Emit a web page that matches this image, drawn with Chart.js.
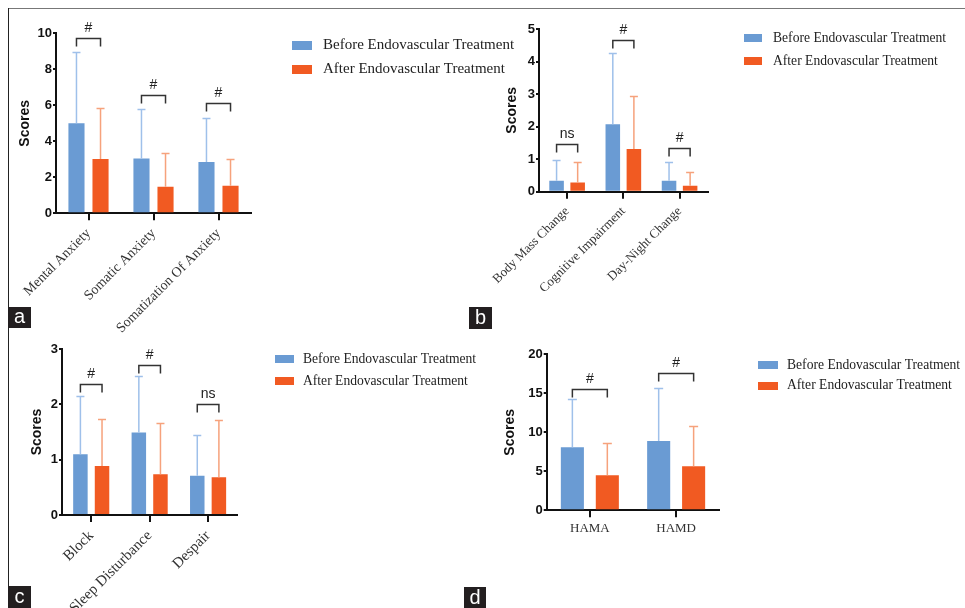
<!DOCTYPE html>
<html><head><meta charset="utf-8">
<script src="https://cdn.jsdelivr.net/npm/chart.js@4.4.1/dist/chart.umd.min.js"></script>
<style>
html,body{margin:0;padding:0;background:#fff;}
#wrap{position:relative;width:965px;height:608px;overflow:hidden;background:#fff;}
canvas{position:absolute;left:0;top:0;}
.lbl{position:absolute;background:#231f20;color:#fff;font:20px 'Liberation Sans',Arial,sans-serif;text-align:center;}
</style></head><body>
<div id="wrap">
 <div style="position:absolute;left:8px;top:8px;width:957px;height:1px;background:#777"></div>
 <div style="position:absolute;left:8px;top:8px;width:1px;height:600px;background:#222"></div>
 <canvas id="ca" width="965" height="608"></canvas>
 <canvas id="cb" width="965" height="608"></canvas>
 <canvas id="cc" width="965" height="608"></canvas>
 <canvas id="cd" width="965" height="608"></canvas>
 <div class="lbl" style="left:8px;top:307px;width:23px;height:21px;line-height:19px">a</div>
 <div class="lbl" style="left:469px;top:307px;width:23px;height:22px;line-height:20px">b</div>
 <div class="lbl" style="left:8px;top:586px;width:23px;height:22px;line-height:21px">c</div>
 <div class="lbl" style="left:464px;top:587px;width:22px;height:21px;line-height:20px">d</div>
</div>
<script>
// ---- data ----
const seriesNames = ['Before Endovascular Treatment', 'After Endovascular Treatment'];

const catA = ['Mental Anxiety', 'Somatic Anxiety', 'Somatization Of Anxiety'];
const beforeA = [5.0, 3.05, 2.85];
const beforeSdA = [3.95, 2.73, 2.45];
const afterA = [3.02, 1.48, 1.53];
const afterSdA = [2.81, 1.85, 1.49];
const sigA = ['#', '#', '#'];
const sigLevelA = [9.76, 6.57, 6.11];
const yTicksA = [0, 2, 4, 6, 8, 10];

const catB = ['Body Mass Change', 'Cognitive Impairment', 'Day-Night Change'];
const beforeB = [0.34, 2.07, 0.34];
const beforeSdB = [0.635, 2.2, 0.58];
const afterB = [0.28, 1.31, 0.18];
const afterSdB = [0.62, 1.63, 0.44];
const sigB = ['ns', '#', '#'];
const sigLevelB = [1.46, 4.65, 1.35];
const yTicksB = [0, 1, 2, 3, 4, 5];

const catC = ['Block', 'Sleep Disturbance', 'Despair'];
const beforeC = [1.10, 1.49, 0.71];
const beforeSdC = [1.05, 1.02, 0.74];
const afterC = [0.885, 0.735, 0.68];
const afterSdC = [0.855, 0.925, 1.04];
const sigC = ['#', '#', 'ns'];
const sigLevelC = [2.36, 2.71, 2.0];
const yTicksC = [0, 1, 2, 3];

const catD = ['HAMA', 'HAMD'];
const beforeD = [8.08, 8.88];
const beforeSdD = [6.22, 6.82];
const afterD = [4.49, 5.64];
const afterSdD = [4.18, 5.21];
const sigD = ['#', '#'];
const sigLevelD = [15.6, 17.6];
const yTicksD = [0, 5, 10, 15, 20];

// ---- styles ----
const BLUE = '#6a9bd3', ORANGE = '#f15a22';
const BLUE_ERR = '#9fc0ea', ORANGE_ERR = '#f6a27c';
const SANS = '"Liberation Sans", Arial, sans-serif';
const SERIF = '"Liberation Serif", "Times New Roman", serif';

const extras = {
  id: 'extras',
  afterDatasetsDraw(chart, args, opts) {
    const ctx = chart.ctx, y = chart.scales.y;
    // error bars (upper only)
    opts.sd.forEach((sdArr, di) => {
      const meta = chart.getDatasetMeta(di);
      const vals = chart.data.datasets[di].data;
      ctx.save();
      ctx.strokeStyle = opts.errColors[di];
      ctx.lineWidth = 1.5;
      meta.data.forEach((bar, j) => {
        const yt = Math.round(y.getPixelForValue(vals[j] + sdArr[j])) + 0.5;
        ctx.beginPath();
        ctx.moveTo(bar.x, bar.y);
        ctx.lineTo(bar.x, yt);
        ctx.moveTo(bar.x - opts.cap, yt);
        ctx.lineTo(bar.x + opts.cap, yt);
        ctx.stroke();
      });
      ctx.restore();
    });
    // significance brackets
    const m0 = chart.getDatasetMeta(0), m1 = chart.getDatasetMeta(1);
    ctx.save();
    ctx.strokeStyle = '#333'; ctx.lineWidth = 1.5; ctx.fillStyle = '#222';
    ctx.font = '14px ' + SANS; ctx.textAlign = 'center'; ctx.textBaseline = 'alphabetic';
    opts.sigLevels.forEach((lv, j) => {
      const x1 = m0.data[j].x, x2 = m1.data[j].x;
      const yy = Math.round(y.getPixelForValue(lv)) + 0.5;
      ctx.beginPath();
      ctx.moveTo(x1, yy + 8); ctx.lineTo(x1, yy); ctx.lineTo(x2, yy); ctx.lineTo(x2, yy + 8);
      ctx.stroke();
      ctx.fillText(opts.sig[j], (x1 + x2) / 2, yy - 7);
    });
    ctx.restore();
    // legend
    const L = opts.legend;
    ctx.save();
    ctx.font = L.size + 'px ' + SERIF; ctx.textBaseline = 'middle'; ctx.textAlign = 'left';
    chart.data.datasets.forEach((ds, i) => {
      const cy = L.y + i * L.gap;
      ctx.fillStyle = ds.backgroundColor;
      ctx.fillRect(L.x, Math.round(cy - L.bh / 2), L.bw, L.bh);
      ctx.fillStyle = '#222';
      ctx.fillText(ds.label, L.x + L.bw + L.tx, cy);
    });
    ctx.restore();
  }
};

function makePanel(id, p) {
  const t = p.yTicks;
  return new Chart(document.getElementById(id), {
    type: 'bar',
    data: {
      labels: p.cats,
      datasets: [
        { label: seriesNames[0], data: p.before, backgroundColor: BLUE, borderWidth: 0,
          categoryPercentage: p.cp, barPercentage: p.bp },
        { label: seriesNames[1], data: p.after, backgroundColor: ORANGE, borderWidth: 0,
          categoryPercentage: p.cp, barPercentage: p.bp }
      ]
    },
    options: {
      responsive: false, animation: false, devicePixelRatio: 1,
      layout: { padding: p.pad },
      plugins: {
        legend: { display: false }, tooltip: { enabled: false },
        extras: { sd: [p.beforeSd, p.afterSd], errColors: [BLUE_ERR, ORANGE_ERR], cap: p.cap,
                  sig: p.sig, sigLevels: p.sigLevels, legend: p.legend }
      },
      scales: {
        x: {
          afterFit(s) { s.height = p.xH; },
          border: { display: true, color: '#111', width: 2 },
          grid: { offset: false, drawOnChartArea: false, drawTicks: true, tickLength: 7, color: '#111', lineWidth: 2 },
          ticks: { autoSkip: false, minRotation: p.rot, maxRotation: p.rot, padding: p.xPad,
                   color: '#333', font: { family: SERIF, size: p.xFont } }
        },
        y: {
          min: t[0], max: t[t.length - 1],
          afterFit(s) { s.width = p.yW; },
          border: { display: true, color: '#111', width: 2 },
          grid: { drawOnChartArea: false, drawTicks: true, tickLength: 3, color: '#111', lineWidth: 2 },
          ticks: { stepSize: t[1] - t[0], padding: 1, color: '#111',
                   font: { family: SANS, size: 13, weight: 'bold' } },
          title: { display: true, text: 'Scores', color: '#111',
                   font: { family: SANS, size: 14, weight: 'bold' } }
        }
      }
    },
    plugins: [extras]
  });
}

makePanel('ca', {
  cats: catA, before: beforeA, after: afterA, beforeSd: beforeSdA, afterSd: afterSdA,
  sig: sigA, sigLevels: sigLevelA, yTicks: yTicksA,
  pad: { left: 12.6, top: 33.3, right: 714, bottom: 274.7 }, yW: 43.4, xH: 120,
  cp: 0.74, bp: 0.67, cap: 4, rot: 45, xFont: 14, xPad: 5,
  legend: { x: 292, y: 45, gap: 24, bw: 20, bh: 9, tx: 11, size: 15 }
});
makePanel('cb', {
  cats: catB, before: beforeB, after: afterB, beforeSd: beforeSdB, afterSd: afterSdB,
  sig: sigB, sigLevels: sigLevelB, yTicks: yTicksB,
  pad: { left: 499.3, top: 29, right: 257.3, bottom: 296.3 }, yW: 39.7, xH: 120,
  cp: 0.75, bp: 0.69, cap: 4, rot: 45, xFont: 13, xPad: 5,
  legend: { x: 744, y: 38.3, gap: 22.7, bw: 18, bh: 8, tx: 11, size: 13.6 }
});
makePanel('cc', {
  cats: catC, before: beforeC, after: afterC, beforeSd: beforeSdC, afterSd: afterSdC,
  sig: sigC, sigLevels: sigLevelC, yTicks: yTicksC,
  pad: { left: 24.3, top: 349, right: 727.7, bottom: 0 }, yW: 37.7, xH: 93,
  cp: 0.74, bp: 0.67, cap: 4, rot: 45, xFont: 15, xPad: 5,
  legend: { x: 275, y: 359, gap: 22, bw: 19, bh: 8, tx: 9, size: 13.6 }
});
makePanel('cd', {
  cats: catD, before: beforeD, after: afterD, beforeSd: beforeSdD, afterSd: afterSdD,
  sig: sigD, sigLevels: sigLevelD, yTicks: yTicksD,
  pad: { left: 497.3, top: 354.3, right: 245.7, bottom: 57.7 }, yW: 49.4, xH: 40,
  cp: 0.81, bp: 0.66, cap: 4.5, rot: 0, xFont: 13, xPad: 3,
  legend: { x: 758, y: 365, gap: 20.5, bw: 20, bh: 8, tx: 9, size: 13.6 }
});
</script>
</body></html>
